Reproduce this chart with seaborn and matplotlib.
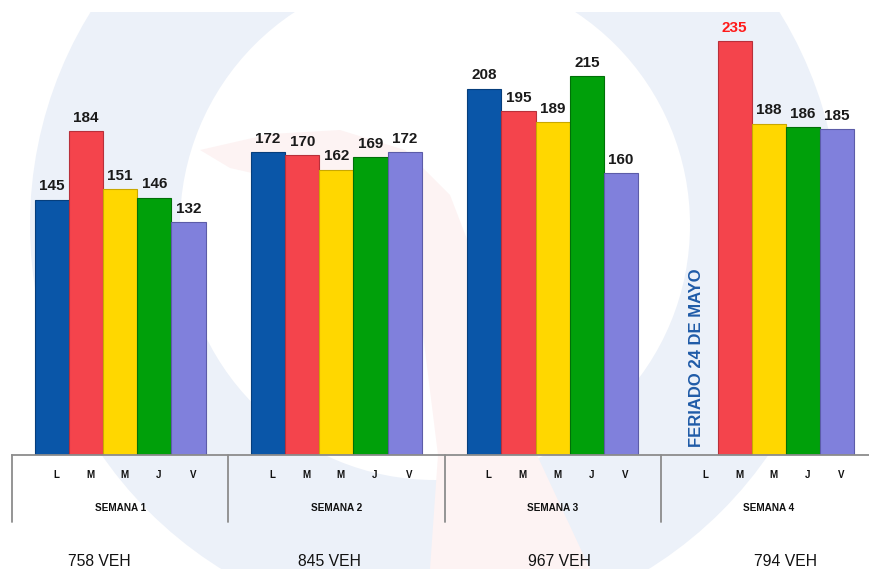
import matplotlib
matplotlib.use("Agg")
import matplotlib.pyplot as plt
import matplotlib.transforms as mtransforms
from matplotlib.patches import Circle, Polygon, Rectangle
import seaborn as sns
import pandas as pd
import numpy as np

# ---- data ----
semanas = ["SEMANA 1", "SEMANA 2", "SEMANA 3", "SEMANA 4"]
dias_keys = ["L", "Ma", "Mi", "J", "V"]
dias_labels = ["L", "M", "M", "J", "V"]
sem1 = [145, 184, 151, 146, 132]
sem2 = [172, 170, 162, 169, 172]
sem3 = [208, 195, 189, 215, 160]
sem4 = [np.nan, 235, 188, 186, 185]   # L: feriado 24 de mayo
totales = ["758 VEH", "845 VEH", "967 VEH", "794 VEH"]
feriado_text = "FERIADO 24 DE MAYO"

colors = {"L": "#0A56A8", "Ma": "#F4444C", "Mi": "#FFD700", "J": "#00A00A", "V": "#8080DC"}
edge = {"L": "#063E7C", "Ma": "#B8303A", "Mi": "#C9A800", "J": "#007008", "V": "#5C5CA8"}

rows = []
for s, vals in zip(semanas, [sem1, sem2, sem3, sem4]):
    for k, v in zip(dias_keys, vals):
        rows.append({"semana": s, "dia": k, "veh": v})
df = pd.DataFrame(rows)

sns.set_style("white")
plt.rcParams["font.family"] = ["Liberation Sans", "DejaVu Sans"]

W, H = 869, 569
fig = plt.figure(figsize=(W / 100, H / 100), dpi=100)

# ---- faint watermark background ----
bg = fig.add_axes([0, 0, 1, 1], zorder=0)
bg.set_xlim(0, W)
bg.set_ylim(H, 0)
bg.axis("off")
bg.add_patch(Circle((435, 225), 405, color="#ECF1F9", lw=0))
bg.add_patch(Circle((435, 225), 255, color="white", lw=0))
bg.add_patch(Polygon([(200, 150), (270, 134), (340, 130), (405, 150), (450, 195),
                      (475, 260), (495, 340), (530, 440), (590, 569), (430, 569),
                      (438, 455), (420, 310), (385, 240), (305, 185), (230, 168)],
                     closed=True, color="#FDF3F3", lw=0))
bg.add_patch(Rectangle((0, 0), W, 12, color="white", lw=0))

# ---- main axes ----
base_y = 455
px_per_unit = 1.762
ax = fig.add_axes([12 / W, (H - base_y) / H, 865 / W, base_y / H], zorder=1)
ax.patch.set_alpha(0)

sns.barplot(data=df, x="semana", y="veh", hue="dia", hue_order=dias_keys,
            order=semanas, palette=colors, width=0.79, saturation=1,
            errorbar=None, legend=False, ax=ax)

for cont, k in zip(ax.containers, dias_keys):
    for p in cont.patches:
        p.set_edgecolor(edge[k])
        p.set_linewidth(0.8)
    labs = [f"{v:.0f}" for v in cont.datavalues]
    texts = ax.bar_label(cont, labels=labs, padding=4.5, fontsize=11,
                         fontweight="bold", color="#1A1A1A")
    for t, v in zip(texts, cont.datavalues):
        if v == 235:
            t.set_color("#FF1A1A")

ax.set_xlim(-0.5, 3.5)
ax.set_ylim(0, base_y / px_per_unit)
ax.set_xlabel("")
ax.set_ylabel("")
ax.set_yticks([])
for s in ["top", "right", "left"]:
    ax.spines[s].set_visible(False)
ax.spines["bottom"].set_color("#8C8C8C")
ax.spines["bottom"].set_linewidth(1.3)

# day tick labels under each bar
bw = 0.79 / 5
tick_pos, tick_lab = [], []
for g in range(len(semanas)):
    for i, lab in enumerate(dias_labels):
        tick_pos.append(g + (i - 2) * bw + 0.02)
        tick_lab.append(lab)
ax.set_xticks(tick_pos)
ax.set_xticklabels(tick_lab, fontsize=7, fontweight="bold", color="#111111")
ax.tick_params(axis="x", length=0, pad=11)

trans = mtransforms.blended_transform_factory(ax.transData, ax.transAxes)
sep_bottom = -(522 - base_y) / base_y
for xs in np.arange(-0.5, len(semanas), 1.0):
    ax.plot([xs, xs], [0, sep_bottom], color="#8C8C8C", lw=1.3,
            transform=trans, clip_on=False)

for g, s in enumerate(semanas):
    ax.text(g, -(508 - base_y) / base_y, s, transform=trans, ha="center",
            va="center", fontsize=7.2, fontweight="bold", color="#111111")

veh_x = [-0.098, 0.966, 2.03, 3.075]
for xv, t in zip(veh_x, totales):
    ax.text(xv, -(561 - base_y) / base_y, t, transform=trans, ha="center",
            va="center", fontsize=11.3, color="#111111")

ax.text(2.665, 4.5, feriado_text, rotation=90, ha="center", va="bottom",
        fontsize=12, fontweight="bold", color="#1F5BA8")

fig.savefig("out.png", dpi=100)
